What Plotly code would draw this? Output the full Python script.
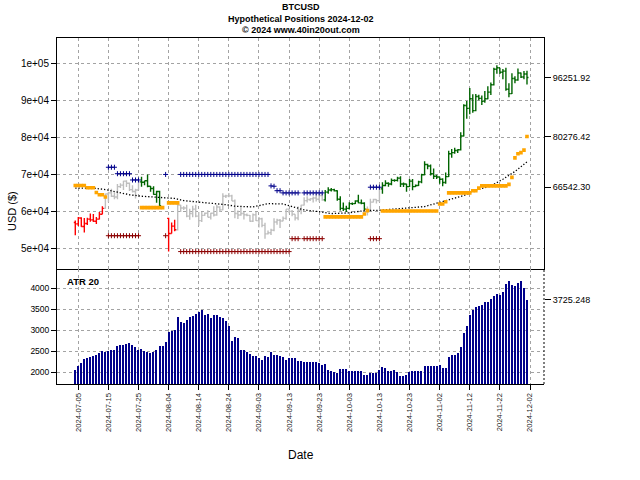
import pandas as pd
import plotly.graph_objects as go

# ---------------- data ----------------
dates = pd.date_range("2024-07-04", periods=151, freq="D")

open_ = [57000, 56600, 58200, 55900, 56700, 57900, 57700, 57300, 57900, 59200,
         60800, 64700, 65000, 64100, 63900, 66700, 67100, 68200, 67600, 65900,
         65400, 65800, 68000, 67900, 68300, 66800, 66200, 64600, 65400,
         None, None,
         58100, 54000, 56000,
         55000, 61700, 60900, 60900, 58700, 59400,
         60600, 58700, 57500, 58900, 59500, 58400, 59500, 59000, 61200, 60400,
         64100, 64200, 64200, 62800, 59400, 59000, 59400, 59100, 58900, 57300,
         59100, 57500, 58000, 56200, 53900, 54200, 54900, 57100, 57600, 57400,
         58100, 60600, 60000, 59200, 58200, 60300, 61700, 62900, 63200, 63400,
         63600, 63300, 64300, 63100, 65200, 65800, 65900, 65600, 63300, 60800,
         60600, 60800, 62100, 62100, 62800, 62300, 62200, 60600, 60300, 62500,
         63200, 62900, 66100, 67000, 67600, 67400, 68400, 68400, 69000, 67400,
         67400, 66700, 68200, 66700, 67000, 68000, 69900, 72700, 72300, 70200,
         69500, 69300, 68700, 67800, 69400, 75600, 75900, 76500, 76700, 80400,
         88700, 87900, 90500, 87300, 91100, 90600, 89800, 90500, 92300, 94300,
         98500, 98900, 97700, 98000, 93100, 91900, 96000, 95600, 97500, 96400, 97200]

high = [57500, 58500, 58400, 58200, 58300, 59400, 59300, 58500, 59800, 61400,
        64800, 65300, 66100, 65100, 67400, 67600, 68300, 68400, 67800, 67100,
        66100, 68200, 69400, 68300, 70000, 66900, 66800, 65600, 65600,
        None, None,
        58300, 57000, 57700,
        62700, 61800, 61400, 61800, 60700, 61500,
        61800, 59800, 59800, 59700, 60300, 59600, 61400, 61800, 61400, 64900,
        64500, 65000, 64500, 63200, 60200, 61200, 59800, 59400, 59000, 59400,
        59800, 58500, 58300, 56900, 54800, 55300, 58100, 58000, 57900, 58600,
        60600, 60600, 60400, 59200, 61300, 61800, 63800, 64100, 63500, 64000,
        64700, 64700, 64800, 65800, 66500, 66300, 66100, 65700, 64100, 62400,
        61500, 62500, 62400, 63000, 64500, 63200, 62500, 61300, 63400, 63400,
        63300, 66500, 67900, 68400, 67900, 68900, 68700, 69400, 69500, 67800,
        67500, 68800, 68800, 67300, 68300, 70200, 73600, 72900, 72700, 71600,
        69900, 69400, 69000, 70500, 76400, 76900, 77200, 76800, 81400, 89000,
        89900, 93400, 91700, 91800, 91600, 91400, 92600, 93900, 94900, 98900,
        99600, 98900, 98600, 98900, 94700, 97400, 96600, 98700, 97600, 98000, 98100]

low = [53500, 56000, 55800, 54300, 56300, 57200, 57100, 56600, 57800, 59200,
       60700, 62500, 63900, 63300, 63300, 66300, 65800, 66600, 65500, 65100,
       63500, 65800, 66700, 67100, 66500, 65300, 64500, 62300, 61200,
       None, None,
       49100, 54000, 54600,
       54800, 59800, 60400, 58400, 57700, 58400,
       58400, 56100, 57100, 58800, 58400, 57800, 58600, 58800, 59800, 60300,
       63600, 63800, 62800, 58100, 57900, 58800, 57800, 58700, 57200, 57100,
       57400, 55600, 55700, 52600, 53700, 53600, 54600, 56400, 55500, 57300,
       57700, 59500, 58700, 57500, 57600, 59200, 61600, 62400, 62800, 62400,
       62700, 62600, 62900, 62700, 64800, 65400, 65400, 62900, 60200, 60100,
       59800, 60500, 61700, 62000, 62200, 61900, 60300, 58900, 60100, 62400,
       62100, 62500, 64800, 66800, 66700, 67100, 68000, 68100, 66600, 66600,
       65300, 66600, 65700, 66600, 66900, 67600, 69800, 71400, 69700, 68800,
       68800, 67500, 66800, 67500, 69300, 74500, 75600, 75800, 76500, 80300,
       85100, 86300, 86700, 87100, 90100, 88800, 89400, 90400, 91500, 94100,
       97300, 97200, 95800, 92700, 90900, 91800, 94700, 95400, 96100, 95800, 94400]

close = [56600, 58200, 55900, 56700, 57900, 57700, 57300, 57900, 59200, 60800,
         64700, 65000, 64100, 63900, 66700, 67100, 68200, 67600, 65900, 65400,
         65800, 68000, 67900, 68300, 66800, 66200, 64600, 65400, 61500,
         None, None,
         54000, 56000, 55000,
         61700, 60900, 60900, 58700, 59400, 60600,
         58700, 57500, 58900, 59500, 58400, 59500, 59000, 61200, 60400, 64100,
         64200, 64200, 62800, 59400, 59000, 59400, 59100, 58900, 57300, 59100,
         57500, 58000, 56200, 53900, 54200, 54900, 57100, 57600, 57400, 58100,
         60600, 60000, 59200, 58200, 60300, 61700, 62900, 63200, 63400, 63600,
         63300, 64300, 63100, 65200, 65800, 65900, 65600, 63300, 60800, 60600,
         60800, 62100, 62100, 62800, 62300, 62200, 60600, 60300, 62500, 63200,
         62900, 66100, 67000, 67600, 67400, 68400, 68400, 69000, 67400, 67400,
         66700, 68200, 66700, 67000, 68000, 69900, 72700, 72300, 70200, 69500,
         69300, 68700, 67800, 69400, 75600, 75900, 76500, 76700, 80400, 88700,
         87900, 90500, 87300, 91100, 90600, 89800, 90500, 92300, 94300, 98500,
         98900, 97700, 98000, 93100, 91900, 96000, 95600, 97500, 96400, 97200, 96251.92]

# position state of each bar: S = short (red), L = long (green), F = flat (gray)
position = (["S"] * 10 + ["F"] * 12 + ["L"] * 7 + [None] * 2 + ["S"] * 3 +
            ["F"] * 49 + ["L"] * 14 + ["F"] * 5 + ["L"] * 49)

# trailing stop (orange squares)
stop = ([67000] * 4 + [66400] * 3 + [65100] + [64500] * 2 + [63900] +
        [None] * 11 + [61000] * 8 + [None] + [62300] * 4 + [None] * 48 +
        [58500] * 13 + [59300] + [60200] + [None] * 4 +
        [60100] * 19 + [62000] * 2 + [62600] + [65000] * 8 + [65600] * 2 +
        [66300] + [66900] * 9 + [67300] + [69200] + [74500] + [75600] +
        [75900] + [76600] + [80276.42])

# upper channel (dark blue +) and lower channel (dark red +)
upper = ([None] * 11 + [71950] * 3 + [70200] * 5 + [68500] * 3 + [None] * 8 +
         [70000] + [None] * 4 + [70000] * 30 + [66900] + [66800] + [65600] * 2 +
         [65000] * 6 + [None] + [65000] * 7 + [None] * 15 + [66542.30] * 4 +
         [None] * 49)
lower = ([None] * 11 + [53400] * 11 + [None] * 8 + [53400] + [None] * 4 +
         [49100] * 37 + [52600] * 3 + [None] + [52600] * 7 + [None] * 15 +
         [52600] * 4 + [None] * 49)

# slow moving average (dotted black line)
ma_dates = ["2024-07-04", "2024-07-10", "2024-07-14", "2024-07-18", "2024-07-22",
            "2024-07-26", "2024-08-01", "2024-08-06", "2024-08-09", "2024-08-13",
            "2024-08-17", "2024-08-23", "2024-08-26", "2024-09-01", "2024-09-06",
            "2024-09-11", "2024-09-14", "2024-09-18", "2024-09-23", "2024-09-27",
            "2024-10-03", "2024-10-08", "2024-10-13", "2024-10-18", "2024-10-24",
            "2024-10-28", "2024-11-01", "2024-11-06", "2024-11-10", "2024-11-14",
            "2024-11-19", "2024-11-23", "2024-11-27", "2024-12-01"]
ma_values = [66300, 66300, 65900, 65200, 64500,
             64100, 63800, 63500, 62900, 62600,
             62200, 61800, 61400, 61200, 62100,
             62000, 61300, 60400, 59900, 59400,
             59600, 60200, 60300, 60600, 60900,
             61300, 62200, 63300, 64300, 65700,
             66900, 68700, 70800, 73400]

# ATR 20
atr = [2055, 2150, 2222, 2309, 2333, 2364, 2380, 2412, 2460, 2491,
       2475, 2507, 2523, 2531, 2626, 2650, 2650, 2674, 2698, 2650,
       2602, 2531, 2555, 2491, 2475, 2452, 2475, 2531, 2610, 2626,
       2706, 2944, 2968, 2991, 3301, 3190, 3166, 3237, 3309, 3325,
       3388, 3436, 3468, 3364, 3388, 3285, 3364, 3364, 3301, 3285,
       3206, 3103, 2745, 2833, 2809, 2523, 2531, 2475, 2436, 2388,
       2372, 2333, 2293, 2372, 2364, 2475, 2396, 2396, 2372, 2348,
       2293, 2325,
       2333, 2333, 2269, 2269, 2237, 2237, 2237, 2237, 2237, 2214,
       2174, 2198, 2047, 2031, 2000, 1968, 2071, 2071, 2071, 2031,
       2015, 2015, 2031, 2015, 1920, 1920, 1984, 1984, 1984, 2047,
       2118, 2095, 2015, 2015, 2047, 2000, 1912, 1912, 1936, 2000,
       2015, 2015, 2031, 2031, 2142, 2134, 2150, 2134, 2134, 2158,
       2103, 2103, 2356, 2412, 2412, 2444, 2602, 2936, 3103, 3349,
       3483, 3539, 3579, 3603, 3666, 3666, 3745, 3801, 3857, 3841,
       3904, 4103, 4158, 4079, 4055, 4119, 4158, 4000, 3725.248]

price_ticks = [50000, 60000, 70000, 80000, 90000, 100000]
price_tick_text = ["5e+04", "6e+04", "7e+04", "8e+04", "9e+04", "1e+05"]
right_price_ticks = [96251.92, 80276.42, 66542.30]
atr_ticks = [2000, 2500, 3000, 3500, 4000]
right_atr_ticks = [3725.248]
date_ticks = pd.date_range("2024-07-05", "2024-12-02", freq="10D")

title_lines = ["BTCUSD", "Hypothetical Positions 2024-12-02", "\u00a9 2024 www.40in20out.com"]

# ---------------- styling ----------------
FONT = "Liberation Sans, Arial, sans-serif"
GRID = "#a3a3a3"
pos_colors = {"F": "#bebebe", "S": "#ff0000", "L": "#006400"}
x_range = ["2024-06-27 22:19", "2024-12-06 15:36"]
price_range = [44300, 106970]
atr_range = [1721, 4452]
split = 0.3315

fig = go.Figure()

for p in ["F", "S", "L"]:
    idx = [i for i, s in enumerate(position) if s == p]
    c = pos_colors[p]
    fig.add_trace(go.Ohlc(
        x=[dates[i] for i in idx],
        open=[open_[i] for i in idx], high=[high[i] for i in idx],
        low=[low[i] for i in idx], close=[close[i] for i in idx],
        increasing=dict(line=dict(color=c, width=1.4)),
        decreasing=dict(line=dict(color=c, width=1.4)),
        tickwidth=0.5, xaxis="x", yaxis="y", hoverinfo="skip"))

fig.add_trace(go.Scatter(x=pd.to_datetime(ma_dates), y=ma_values, mode="lines",
                         line=dict(color="black", width=1.3, dash="1.3px,1.9px"),
                         xaxis="x", yaxis="y", hoverinfo="skip"))

fig.add_trace(go.Scatter(x=dates, y=stop, mode="markers",
                         marker=dict(symbol="square", size=3.6, color="#ffa500",
                                     line=dict(width=0)),
                         xaxis="x", yaxis="y", hoverinfo="skip"))

fig.add_trace(go.Scatter(x=dates, y=upper, mode="markers",
                         marker=dict(symbol="cross-thin", size=3.6, color="#00008b",
                                     line=dict(width=1, color="#00008b")),
                         xaxis="x", yaxis="y", hoverinfo="skip"))
fig.add_trace(go.Scatter(x=dates, y=lower, mode="markers",
                         marker=dict(symbol="cross-thin", size=3.6, color="#8b0000",
                                     line=dict(width=1, color="#8b0000")),
                         xaxis="x", yaxis="y", hoverinfo="skip"))

fig.add_trace(go.Bar(x=dates, y=atr, marker=dict(color="#00008b", line=dict(width=0)),
                     width=0.4 * 86400000, xaxis="x2", yaxis="y2", hoverinfo="skip"))

# invisible anchors for right-hand axes
fig.add_trace(go.Scatter(x=[dates[-1]], y=[right_price_ticks[0]], mode="markers",
                         marker=dict(opacity=0), xaxis="x", yaxis="y3", hoverinfo="skip"))
fig.add_trace(go.Scatter(x=[dates[-1]], y=[right_atr_ticks[0]], mode="markers",
                         marker=dict(opacity=0), xaxis="x2", yaxis="y4", hoverinfo="skip"))

common_grid = dict(showgrid=True, gridcolor=GRID, gridwidth=1, griddash="dot", zeroline=False)

fig.update_layout(
    width=640, height=480,
    margin=dict(l=57, r=96, t=38, b=96),
    paper_bgcolor="white", plot_bgcolor="white",
    showlegend=False, bargap=0,
    font=dict(family=FONT, color="black"),
    xaxis=dict(domain=[0, 1], anchor="y", type="date", range=x_range,
               rangeslider=dict(visible=False), tickvals=date_ticks,
               showticklabels=False, ticks="",
               showline=True, linecolor="black", linewidth=1, mirror=True, **common_grid),
    xaxis2=dict(domain=[0, 1], anchor="y2", type="date", range=x_range, matches="x",
                rangeslider=dict(visible=False), tickvals=date_ticks,
                ticktext=[d.strftime("%Y-%m-%d") for d in date_ticks],
                tickangle=-90, ticks="outside", ticklen=5, tickcolor="black",
                tickfont=dict(size=7.6, color="#222222"),
                showline=True, linecolor="black", linewidth=1, mirror=False, **common_grid),
    yaxis=dict(domain=[split, 1], anchor="x", range=price_range,
               tickvals=price_ticks, ticktext=price_tick_text,
               ticks="outside", ticklen=5, tickcolor="black",
               tickfont=dict(size=10),
               showline=True, linecolor="black", linewidth=1, mirror=True, **common_grid),
    yaxis2=dict(domain=[0, split], anchor="x2", range=atr_range,
                tickvals=atr_ticks, ticktext=[str(v) for v in atr_ticks],
                ticks="outside", ticklen=5, tickcolor="black",
                tickfont=dict(size=8.5),
                showline=True, linecolor="black", linewidth=1, mirror=False, **common_grid),
    yaxis3=dict(overlaying="y", side="right", anchor="x", range=price_range,
                tickvals=right_price_ticks, ticktext=[f"{v:.2f}" for v in right_price_ticks],
                ticks="outside", ticklen=6, tickcolor="black", tickfont=dict(size=9),
                showgrid=False, showline=False, zeroline=False),
    yaxis4=dict(overlaying="y2", side="right", anchor="x2", range=atr_range,
                tickvals=right_atr_ticks, ticktext=["3725.248"],
                ticks="outside", ticklen=6, tickcolor="black", tickfont=dict(size=9),
                showgrid=False, showline=False, zeroline=False),
)

# dotted right border of the ATR panel
fig.add_shape(type="line", xref="paper", yref="paper", x0=1, x1=1, y0=0, y1=split,
              line=dict(color="black", width=1, dash="2px,2px"))

PH = 346.0  # plot height in px
def py(pix):
    return (384 - pix) / PH

title_y = [7.5, 18.5, 30]
for txt, yy in zip(title_lines, title_y):
    fig.add_annotation(text=f"<b>{txt}</b>", xref="paper", yref="paper", x=0.5, y=py(yy),
                       xanchor="center", yanchor="middle", showarrow=False,
                       font=dict(size=9, family=FONT, color="black"))

fig.add_annotation(text="<b>ATR 20</b>", xref="paper", yref="paper",
                   x=(65 - 57) / 487, y=py(281), xanchor="left", yanchor="middle",
                   showarrow=False, font=dict(size=9.5, family=FONT, color="black"))
fig.add_annotation(text="USD ($)", xref="paper", yref="paper", x=(12 - 57) / 487, y=0.5,
                   textangle=-90, xanchor="center", yanchor="middle", showarrow=False,
                   font=dict(size=11, family=FONT, color="black"))
fig.add_annotation(text="Date", xref="paper", yref="paper", x=0.5, y=py(455),
                   xanchor="center", yanchor="middle", showarrow=False,
                   font=dict(size=12, family=FONT, color="black"))

fig.write_html("out.html")
